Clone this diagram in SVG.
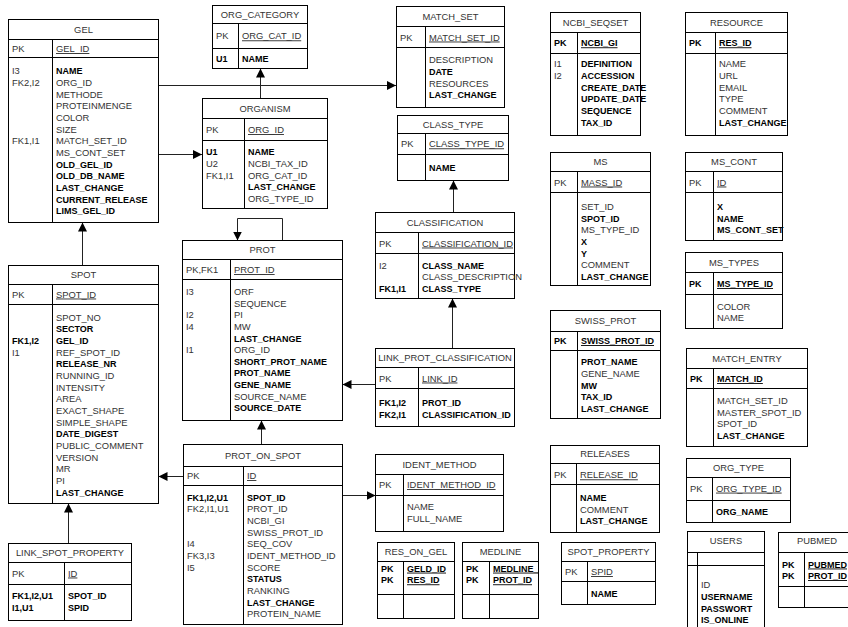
<svg xmlns="http://www.w3.org/2000/svg" width="848" height="627" viewBox="0 0 848 627">
<style>
text{font-family:"Liberation Sans",Arial,sans-serif;font-size:9.4px;fill:#333}
.b{font-weight:bold;font-size:9px;fill:#000}
.u{text-decoration:underline}
.c{text-anchor:middle}
.box{fill:#fff;stroke:#000;stroke-width:1}
.ln{stroke:#000;stroke-width:1;fill:none}
.cn{stroke:#222;stroke-width:1;fill:none}
</style>
<defs>
<marker id="arr" viewBox="0 0 10 10" refX="10" refY="5" markerWidth="9" markerHeight="9" orient="auto" markerUnits="userSpaceOnUse"><path d="M0,0 L10,5 L0,10 z" fill="#000"/></marker>
</defs>
<rect width="848" height="627" fill="#fff"/>

<g id="connectors">
<path class="cn" d="M158.5,85.5 H396" marker-end="url(#arr)"/>
<path class="cn" d="M158.5,154.5 H202" marker-end="url(#arr)"/>
<path class="cn" d="M260.5,98.5 V68.5" marker-end="url(#arr)"/>
<path class="cn" d="M82.5,265.5 V222.5" marker-end="url(#arr)"/>
<path class="cn" d="M282.5,240.5 V218.5 H237.5 V240.5" marker-end="url(#arr)"/>
<path class="cn" d="M261.5,444.5 V420.5" marker-end="url(#arr)"/>
<path class="cn" d="M183.5,476.5 H158.5" marker-end="url(#arr)"/>
<path class="cn" d="M342.5,495.5 H375.5" marker-end="url(#arr)"/>
<path class="cn" d="M375.5,384.5 H342.5" marker-end="url(#arr)"/>
<path class="cn" d="M452.5,348.5 V298.5" marker-end="url(#arr)"/>
<path class="cn" d="M453.5,212.5 V180.5" marker-end="url(#arr)"/>
<path class="cn" d="M68.5,543.5 V503.5" marker-end="url(#arr)"/>
</g>

<g id="GEL">
<rect class="box" x="8.5" y="19.5" width="150" height="203"/>
<path class="ln" d="M8.5,39.5 H158.5 M8.5,57.5 H158.5 M52.5,39.5 V222.5"/>
<text class="c" x="83.5" y="33">GEL</text>
<text x="12" y="52">PK</text><text class="u" x="56" y="52">GEL_ID</text>
<text><tspan x="12" y="74.3">I3</tspan><tspan x="12" y="86">FK2,I2</tspan><tspan x="12" y="144.2">FK1,I1</tspan></text>
<text><tspan class="b" x="56" y="74.3">NAME</tspan><tspan x="56" y="86">ORG_ID</tspan><tspan x="56" y="97.6">METHODE</tspan><tspan x="56" y="109.3">PROTEINMENGE</tspan><tspan x="56" y="120.9">COLOR</tspan><tspan x="56" y="132.6">SIZE</tspan><tspan x="56" y="144.2">MATCH_SET_ID</tspan><tspan x="56" y="155.9">MS_CONT_SET</tspan><tspan class="b" x="56" y="167.5">OLD_GEL_ID</tspan><tspan class="b" x="56" y="179.2">OLD_DB_NAME</tspan><tspan class="b" x="56" y="190.8">LAST_CHANGE</tspan><tspan class="b" x="56" y="202.5">CURRENT_RELEASE</tspan><tspan class="b" x="56" y="214.1">LIMS_GEL_ID</tspan></text>
</g>

<g id="ORG_CATEGORY">
<rect class="box" x="212.5" y="5.5" width="95" height="63"/>
<path class="ln" d="M212.5,23.5 H307.5 M212.5,48.5 H307.5 M238.5,23.5 V68.5"/>
<text class="c" x="260" y="17.5">ORG_CATEGORY</text>
<text x="216" y="39.3">PK</text><text class="u" x="242" y="39.3">ORG_CAT_ID</text>
<text class="b" x="216" y="62">U1</text><text class="b" x="242" y="62">NAME</text>
</g>

<g id="ORGANISM">
<rect class="box" x="202.5" y="98.5" width="125" height="110"/>
<path class="ln" d="M202.5,118.5 H327.5 M202.5,140.5 H327.5 M244.5,118.5 V208.5"/>
<text class="c" x="265" y="112">ORGANISM</text>
<text x="206" y="133">PK</text><text class="u" x="248" y="133">ORG_ID</text>
<text><tspan class="b" x="206" y="155.3">U1</tspan><tspan x="206" y="167">U2</tspan><tspan x="206" y="178.6">FK1,I1</tspan></text>
<text><tspan class="b" x="248" y="155.3">NAME</tspan><tspan x="248" y="167">NCBI_TAX_ID</tspan><tspan x="248" y="178.6">ORG_CAT_ID</tspan><tspan class="b" x="248" y="190.3">LAST_CHANGE</tspan><tspan x="248" y="201.9">ORG_TYPE_ID</tspan></text>
</g>

<g id="MATCH_SET">
<rect class="box" x="396.5" y="6.5" width="108" height="101"/>
<path class="ln" d="M396.5,26.5 H504.5 M396.5,47.5 H504.5 M425.5,26.5 V107.5"/>
<text class="c" x="450.5" y="20">MATCH_SET</text>
<text x="400" y="40.5">PK</text><text class="u" x="429" y="40.5">MATCH_SET_ID</text>
<text><tspan x="429" y="63.3">DESCRIPTION</tspan><tspan class="b" x="429" y="75">DATE</tspan><tspan x="429" y="86.6">RESOURCES</tspan><tspan class="b" x="429" y="98.3">LAST_CHANGE</tspan></text>
</g>

<g id="CLASS_TYPE">
<rect class="box" x="397.5" y="115.5" width="111" height="65"/>
<path class="ln" d="M397.5,133.5 H508.5 M397.5,154.5 H508.5 M425.5,133.5 V180.5"/>
<text class="c" x="453" y="127.5">CLASS_TYPE</text>
<text x="401" y="147.3">PK</text><text class="u" x="429" y="147.3">CLASS_TYPE_ID</text>
<text class="b" x="429" y="171.3">NAME</text>
</g>

<g id="NCBI_SEQSET">
<rect class="box" x="550.5" y="12.5" width="90" height="123"/>
<path class="ln" d="M550.5,32.5 H640.5 M550.5,53.5 H640.5 M577.5,32.5 V135.5"/>
<text class="c" x="595.5" y="25.5">NCBI_SEQSET</text>
<text class="b" x="554" y="46.3">PK</text><text class="b u" x="581" y="46.3">NCBI_GI</text>
<text><tspan x="554" y="67.3">I1</tspan><tspan x="554" y="79">I2</tspan></text>
<text class="b"><tspan x="581" y="67.3">DEFINITION</tspan><tspan x="581" y="79">ACCESSION</tspan><tspan x="581" y="90.6">CREATE_DATE</tspan><tspan x="581" y="102.3">UPDATE_DATE</tspan><tspan x="581" y="113.9">SEQUENCE</tspan><tspan x="581" y="125.6">TAX_ID</tspan></text>
</g>

<g id="RESOURCE">
<rect class="box" x="685.5" y="12.5" width="102" height="123"/>
<path class="ln" d="M685.5,32.5 H787.5 M685.5,53.5 H787.5 M715.5,32.5 V135.5"/>
<text class="c" x="736.5" y="25.5">RESOURCE</text>
<text class="b" x="689" y="46.3">PK</text><text class="b u" x="719" y="46.3">RES_ID</text>
<text><tspan x="719" y="67.3">NAME</tspan><tspan x="719" y="79">URL</tspan><tspan x="719" y="90.6">EMAIL</tspan><tspan x="719" y="102.3">TYPE</tspan><tspan x="719" y="113.9">COMMENT</tspan><tspan class="b" x="719" y="125.6">LAST_CHANGE</tspan></text>
</g>

<g id="MS">
<rect class="box" x="550.5" y="152.5" width="100" height="133"/>
<path class="ln" d="M550.5,171.5 H650.5 M550.5,192.5 H650.5 M577.5,171.5 V285.5"/>
<text class="c" x="600.5" y="165">MS</text>
<text x="554" y="185.5">PK</text><text class="u" x="581" y="185.5">MASS_ID</text>
<text><tspan x="581" y="210">SET_ID</tspan><tspan class="b" x="581" y="221.7">SPOT_ID</tspan><tspan x="581" y="233.3">MS_TYPE_ID</tspan><tspan class="b" x="581" y="245">X</tspan><tspan class="b" x="581" y="256.7">Y</tspan><tspan x="581" y="268.3">COMMENT</tspan><tspan class="b" x="581" y="280">LAST_CHANGE</tspan></text>
</g>

<g id="MS_CONT">
<rect class="box" x="685.5" y="152.5" width="97" height="88"/>
<path class="ln" d="M685.5,171.5 H782.5 M685.5,192.5 H782.5 M713.5,171.5 V240.5"/>
<text class="c" x="734" y="165">MS_CONT</text>
<text x="689" y="185.5">PK</text><text class="u" x="717" y="185.5">ID</text>
<text class="b"><tspan x="717" y="210">X</tspan><tspan x="717" y="221.7">NAME</tspan><tspan x="717" y="233.3">MS_CONT_SET</tspan></text>
</g>

<g id="MS_TYPES">
<rect class="box" x="685.5" y="252.5" width="97" height="76"/>
<path class="ln" d="M685.5,272.5 H782.5 M685.5,294.5 H782.5 M713.5,272.5 V328.5"/>
<text class="c" x="734" y="266">MS_TYPES</text>
<text class="b" x="689" y="287">PK</text><text class="b u" x="717" y="287">MS_TYPE_ID</text>
<text><tspan x="717" y="309.5">COLOR</tspan><tspan x="717" y="321">NAME</tspan></text>
</g>

<g id="CLASSIFICATION">
<rect class="box" x="375.5" y="212.5" width="139" height="86"/>
<path class="ln" d="M375.5,232.5 H514.5 M375.5,253.5 H514.5 M418.5,232.5 V298.5"/>
<text class="c" x="445" y="226">CLASSIFICATION</text>
<text x="379" y="246.5">PK</text><text class="u" x="422" y="246.5">CLASSIFICATION_ID</text>
<text><tspan x="379" y="268.7">I2</tspan><tspan class="b" x="379" y="292">FK1,I1</tspan></text>
<text><tspan class="b" x="422" y="268.7">CLASS_NAME</tspan><tspan x="422" y="280.3">CLASS_DESCRIPTION</tspan><tspan class="b" x="422" y="292">CLASS_TYPE</tspan></text>
</g>

<g id="PROT">
<rect class="box" x="182.5" y="240.5" width="160" height="180"/>
<path class="ln" d="M182.5,259.5 H342.5 M182.5,279.5 H342.5 M230.5,259.5 V420.5"/>
<text class="c" x="262.5" y="253">PROT</text>
<text x="186" y="273">PK,FK1</text><text class="u" x="234" y="273">PROT_ID</text>
<text><tspan x="186" y="295">I3</tspan><tspan x="186" y="318.3">I2</tspan><tspan x="186" y="329.9">I4</tspan><tspan x="186" y="353.2">I1</tspan></text>
<text><tspan x="234" y="295">ORF</tspan><tspan x="234" y="306.6">SEQUENCE</tspan><tspan x="234" y="318.3">PI</tspan><tspan x="234" y="329.9">MW</tspan><tspan class="b" x="234" y="341.5">LAST_CHANGE</tspan><tspan x="234" y="353.2">ORG_ID</tspan><tspan class="b" x="234" y="364.8">SHORT_PROT_NAME</tspan><tspan class="b" x="234" y="376.4">PROT_NAME</tspan><tspan class="b" x="234" y="388">GENE_NAME</tspan><tspan x="234" y="399.7">SOURCE_NAME</tspan><tspan class="b" x="234" y="411.3">SOURCE_DATE</tspan></text>
</g>

<g id="SPOT">
<rect class="box" x="8.5" y="265.5" width="150" height="238"/>
<path class="ln" d="M8.5,284.5 H158.5 M8.5,304.5 H158.5 M52.5,284.5 V503.5"/>
<text class="c" x="83.5" y="278">SPOT</text>
<text x="12" y="297.5">PK</text><text class="u" x="56" y="297.5">SPOT_ID</text>
<text><tspan class="b" x="12" y="344">FK1,I2</tspan><tspan x="12" y="355.6">I1</tspan></text>
<text><tspan x="56" y="320.6">SPOT_NO</tspan><tspan class="b" x="56" y="332.3">SECTOR</tspan><tspan class="b" x="56" y="344">GEL_ID</tspan><tspan x="56" y="355.6">REF_SPOT_ID</tspan><tspan class="b" x="56" y="367.3">RELEASE_NR</tspan><tspan x="56" y="379">RUNNING_ID</tspan><tspan x="56" y="390.6">INTENSITY</tspan><tspan x="56" y="402.3">AREA</tspan><tspan x="56" y="414">EXACT_SHAPE</tspan><tspan x="56" y="425.6">SIMPLE_SHAPE</tspan><tspan class="b" x="56" y="437.3">DATE_DIGEST</tspan><tspan x="56" y="449">PUBLIC_COMMENT</tspan><tspan x="56" y="460.6">VERSION</tspan><tspan x="56" y="472.3">MR</tspan><tspan x="56" y="484">PI</tspan><tspan class="b" x="56" y="495.6">LAST_CHANGE</tspan></text>
</g>

<g id="SWISS_PROT">
<rect class="box" x="550.5" y="310.5" width="110" height="108"/>
<path class="ln" d="M550.5,331.5 H660.5 M550.5,350.5 H660.5 M577.5,331.5 V418.5"/>
<text class="c" x="605.5" y="324">SWISS_PROT</text>
<text class="b" x="554" y="344">PK</text><text class="b u" x="581" y="344">SWISS_PROT_ID</text>
<text><tspan class="b" x="581" y="365.3">PROT_NAME</tspan><tspan x="581" y="376.9">GENE_NAME</tspan><tspan class="b" x="581" y="388.5">MW</tspan><tspan class="b" x="581" y="400.1">TAX_ID</tspan><tspan class="b" x="581" y="411.7">LAST_CHANGE</tspan></text>
</g>

<g id="LINK_PROT_CLASSIFICATION">
<rect class="box" x="375.5" y="348.5" width="139" height="78"/>
<path class="ln" d="M375.5,367.5 H514.5 M375.5,388.5 H514.5 M418.5,367.5 V426.5"/>
<text class="c" x="445" y="361">LINK_PROT_CLASSIFICATION</text>
<text x="379" y="381.5">PK</text><text class="u" x="422" y="381.5">LINK_ID</text>
<text class="b"><tspan x="379" y="406.3">FK1,I2</tspan><tspan x="379" y="418">FK2,I1</tspan></text>
<text class="b"><tspan x="422" y="406.3">PROT_ID</tspan><tspan x="422" y="418">CLASSIFICATION_ID</tspan></text>
</g>

<g id="MATCH_ENTRY">
<rect class="box" x="686.5" y="348.5" width="121" height="98"/>
<path class="ln" d="M686.5,368.5 H807.5 M686.5,388.5 H807.5 M713.5,368.5 V446.5"/>
<text class="c" x="747" y="362">MATCH_ENTRY</text>
<text class="b" x="690" y="382">PK</text><text class="b u" x="717" y="382">MATCH_ID</text>
<text><tspan x="717" y="404">MATCH_SET_ID</tspan><tspan x="717" y="415.7">MASTER_SPOT_ID</tspan><tspan x="717" y="427.3">SPOT_ID</tspan><tspan class="b" x="717" y="439">LAST_CHANGE</tspan></text>
</g>

<g id="PROT_ON_SPOT">
<rect class="box" x="183.5" y="444.5" width="159" height="180"/>
<path class="ln" d="M183.5,466.5 H342.5 M183.5,485.5 H342.5 M243.5,466.5 V624.5"/>
<text class="c" x="263" y="458.5">PROT_ON_SPOT</text>
<text x="187" y="479">PK</text><text class="u" x="247" y="479">ID</text>
<text><tspan class="b" x="187" y="500.6">FK1,I2,U1</tspan><tspan x="187" y="512.3">FK2,I1,U1</tspan><tspan x="187" y="547.3">I4</tspan><tspan x="187" y="559">FK3,I3</tspan><tspan x="187" y="570.6">I5</tspan></text>
<text><tspan class="b" x="247" y="500.6">SPOT_ID</tspan><tspan x="247" y="512.3">PROT_ID</tspan><tspan x="247" y="524">NCBI_GI</tspan><tspan x="247" y="535.6">SWISS_PROT_ID</tspan><tspan x="247" y="547.3">SEQ_COV</tspan><tspan x="247" y="559">IDENT_METHOD_ID</tspan><tspan x="247" y="570.6">SCORE</tspan><tspan class="b" x="247" y="582.3">STATUS</tspan><tspan x="247" y="594">RANKING</tspan><tspan class="b" x="247" y="605.6">LAST_CHANGE</tspan><tspan x="247" y="617.3">PROTEIN_NAME</tspan></text>
</g>

<g id="IDENT_METHOD">
<rect class="box" x="375.5" y="454.5" width="128" height="77"/>
<path class="ln" d="M375.5,474.5 H503.5 M375.5,495.5 H503.5 M403.5,474.5 V531.5"/>
<text class="c" x="439.5" y="467.5">IDENT_METHOD</text>
<text x="379" y="488">PK</text><text class="u" x="407" y="488">IDENT_METHOD_ID</text>
<text><tspan x="407" y="510">NAME</tspan><tspan x="407" y="521.6">FULL_NAME</tspan></text>
</g>

<g id="RELEASES">
<rect class="box" x="550.5" y="445.5" width="109" height="87"/>
<path class="ln" d="M550.5,463.5 H659.5 M550.5,484.5 H659.5 M576.5,463.5 V532.5"/>
<text class="c" x="605" y="457">RELEASES</text>
<text x="554" y="478.3">PK</text><text class="u" x="580" y="478.3">RELEASE_ID</text>
<text><tspan class="b" x="580" y="501">NAME</tspan><tspan x="580" y="512.6">COMMENT</tspan><tspan class="b" x="580" y="524">LAST_CHANGE</tspan></text>
</g>

<g id="ORG_TYPE">
<rect class="box" x="686.5" y="458.5" width="104" height="64"/>
<path class="ln" d="M686.5,477.5 H790.5 M686.5,500.5 H790.5 M712.5,477.5 V522.5"/>
<text class="c" x="738.5" y="471">ORG_TYPE</text>
<text x="690" y="491.6">PK</text><text class="u" x="716" y="491.6">ORG_TYPE_ID</text>
<text class="b" x="716" y="515">ORG_NAME</text>
</g>

<g id="LINK_SPOT_PROPERTY">
<rect class="box" x="8.5" y="543.5" width="123" height="77"/>
<path class="ln" d="M8.5,562.5 H131.5 M8.5,584.5 H131.5 M64.5,562.5 V620.5"/>
<text class="c" x="70" y="556">LINK_SPOT_PROPERTY</text>
<text x="12" y="576.5">PK</text><text class="u" x="68" y="576.5">ID</text>
<text class="b"><tspan x="12" y="599.3">FK1,I2,U1</tspan><tspan x="12" y="611">I1,U1</tspan></text>
<text class="b"><tspan x="68" y="599.3">SPOT_ID</tspan><tspan x="68" y="611">SPID</tspan></text>
</g>

<g id="RES_ON_GEL">
<rect class="box" x="377.5" y="542.5" width="77" height="76"/>
<path class="ln" d="M377.5,561.5 H454.5 M377.5,594.5 H454.5 M403.5,561.5 V618.5"/>
<text class="c" x="416" y="555">RES_ON_GEL</text>
<text class="b"><tspan x="381" y="571.6">PK</tspan><tspan x="381" y="583.3">PK</tspan></text>
<text class="b u"><tspan x="407" y="571.6">GELD_ID</tspan><tspan x="407" y="583.3">RES_ID</tspan></text>
</g>

<g id="MEDLINE">
<rect class="box" x="462.5" y="542.5" width="76" height="76"/>
<path class="ln" d="M462.5,561.5 H538.5 M462.5,594.5 H538.5 M489.5,561.5 V618.5"/>
<text class="c" x="500.5" y="555">MEDLINE</text>
<text class="b"><tspan x="466" y="571.6">PK</tspan><tspan x="466" y="583.3">PK</tspan></text>
<text class="b u"><tspan x="493" y="571.6">MEDLINE_</tspan><tspan x="493" y="583.3">PROT_ID</tspan></text>
</g>

<g id="SPOT_PROPERTY">
<rect class="box" x="561.5" y="542.5" width="94" height="62"/>
<path class="ln" d="M561.5,561.5 H655.5 M561.5,581.5 H655.5 M587.5,561.5 V604.5"/>
<text class="c" x="608.5" y="555">SPOT_PROPERTY</text>
<text x="565" y="575">PK</text><text class="u" x="591" y="575">SPID</text>
<text class="b" x="591" y="597">NAME</text>
</g>

<g id="USERS">
<rect class="box" x="687.5" y="531.5" width="77" height="110"/>
<path class="ln" d="M687.5,552.5 H764.5 M687.5,565.5 H764.5 M697.5,552.5 V641"/>
<text class="c" x="726" y="544">USERS</text>
<text><tspan x="701" y="588">ID</tspan><tspan class="b" x="701" y="600">USERNAME</tspan><tspan class="b" x="701" y="611.6">PASSWORT</tspan><tspan class="b" x="701" y="623">IS_ONLINE</tspan></text>
</g>

<g id="PUBMED">
<rect class="box" x="778.5" y="532.5" width="80" height="75"/>
<path class="ln" d="M778.5,552.5 H858 M778.5,586.5 H858 M804.5,552.5 V607.5"/>
<text class="c" x="817" y="544">PUBMED</text>
<text class="b"><tspan x="782" y="567.5">PK</tspan><tspan x="782" y="579">PK</tspan></text>
<text class="b u"><tspan x="808" y="567.5">PUBMED</tspan><tspan x="808" y="579">PROT_ID</tspan></text>
</g>
</svg>
